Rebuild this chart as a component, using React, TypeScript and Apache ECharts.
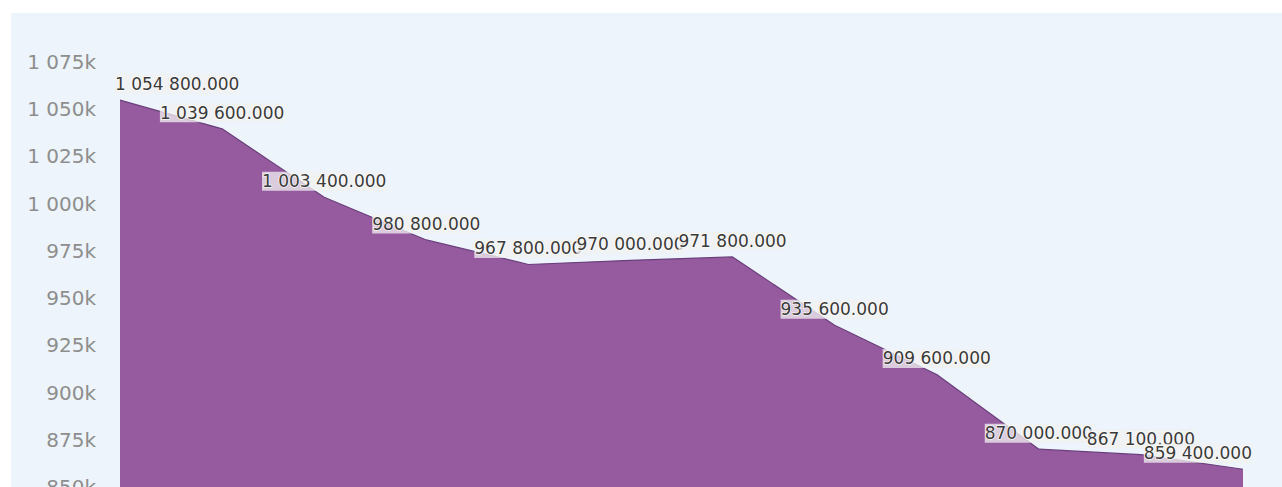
import React, { useEffect, useRef } from "react";
import * as echarts from "echarts";

const categories = ["1", "2", "3", "4", "5", "6", "7", "8", "9", "10", "11", "12"];
const values = [1054800, 1039600, 1003400, 980800, 967800, 970000, 971800, 935600, 909600, 870000, 867100, 859400];
const yMin = 850000;
const yMax = 1075000;
const yInterval = 25000;

function groupSpaces(n: number): string {
  const s = Math.floor(Math.abs(n)).toString();
  return s.replace(/\B(?=(\d{3})+(?!\d))/g, " ");
}

function fmtValue(v: number): string {
  return groupSpaces(v) + ".000";
}

function fmtAxis(v: number): string {
  return groupSpaces(v / 1000) + "k";
}

export default function App() {
  const ref = useRef<HTMLDivElement>(null);
  useEffect(() => {
    if (!ref.current) return;
    const chart = echarts.init(ref.current, undefined, { renderer: "svg" });
    const last = values.length - 1;
    const data = values.map((v, i) => {
      if (i === 0) {
        return { value: v, label: { align: "left", offset: [-5, 0] } };
      }
      if (i === last) {
        return { value: v, label: { align: "right", offset: [9, 0] } };
      }
      return { value: v };
    });
    chart.setOption({
      animation: false,
      backgroundColor: "#edf4fb",
      grid: { left: 109, right: 39, top: 49, bottom: 46 },
      xAxis: {
        type: "category",
        data: categories,
        boundaryGap: false,
        show: false,
      },
      yAxis: {
        type: "value",
        min: yMin,
        max: yMax,
        interval: yInterval,
        axisLine: { show: false },
        axisTick: { show: false },
        splitLine: { show: false },
        axisLabel: {
          formatter: (v: number) => fmtAxis(v),
          color: "#8e8e8e",
          fontSize: 20,
          fontFamily: "DejaVu Sans",
          margin: 24,
        },
      },
      series: [
        {
          type: "line",
          data,
          showSymbol: true,
          symbol: "circle",
          symbolSize: 1,
          itemStyle: { color: "rgba(0,0,0,0)", borderWidth: 0 },
          lineStyle: { color: "#6a3f7c", width: 1.2 },
          areaStyle: { color: "#965b9f", opacity: 1 },
          label: {
            show: true,
            position: "top",
            distance: 6,
            formatter: (p: any) => fmtValue(p.value),
            color: "#3a3a3a",
            fontSize: 17,
            fontFamily: "DejaVu Sans",
            textBorderColor: "rgba(255,255,255,0.8)",
            textBorderWidth: 1.5,
            backgroundColor: "rgba(242,242,242,0.75)",
            padding: [1, 0],
          },
        },
      ],
    });
    return () => chart.dispose();
  }, []);
  return (
    <div
      ref={ref}
      style={{ position: "fixed", left: 11, top: 13, width: 1271, height: 520 }}
    />
  );
}
